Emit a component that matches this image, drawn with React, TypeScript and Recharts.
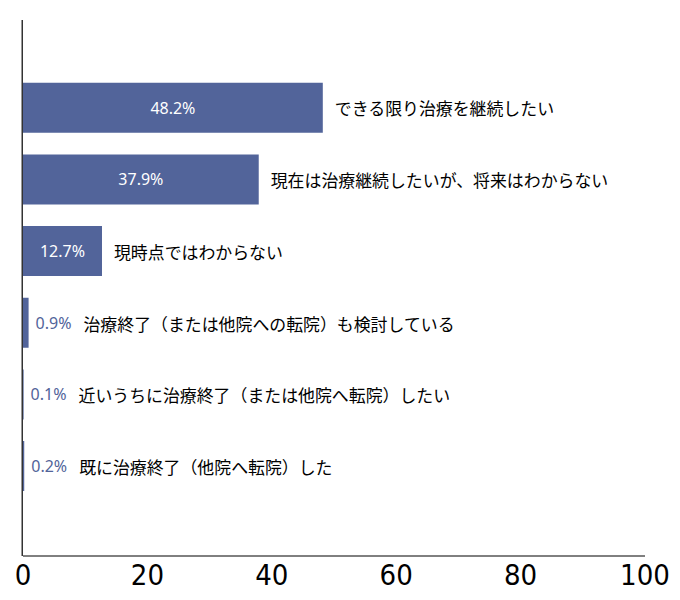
import React from "react";
import { BarChart, Bar, XAxis, YAxis, LabelList, ReferenceLine } from "recharts";

const categories = [
  "できる限り治療を継続したい",
  "現在は治療継続したいが、将来はわからない",
  "現時点ではわからない",
  "治療終了（または他院への転院）も検討している",
  "近いうちに治療終了（または他院へ転院）したい",
  "既に治療終了（他院へ転院）した",
];
const values = [48.2, 37.9, 12.7, 0.9, 0.1, 0.2];
const xTicks = [0, 20, 40, 60, 80, 100];

const data = categories.map((name, i) => ({ name, value: values[i] }));

const BAR = "#52649A";
const JP = "'Noto Sans CJK JP', 'Noto Sans', sans-serif";
const NUM = "'Noto Sans', sans-serif";

const renderLabel = (props: any) => {
  const { x, y, width, height, value, index } = props;
  const cy = y + height / 2;
  const end = x + width;
  const cat = categories[index];
  const label = `${value}%`;
  if (value >= 10) {
    return (
      <g>
        <text x={x + width / 2} y={cy} textAnchor="middle" dominantBaseline="central" fill="#fff" fontSize={16} fontFamily={NUM}>
          {label}
        </text>
        <text x={end + 12} y={cy} dominantBaseline="central" fill="#000" fontSize={16.9} fontFamily={JP}>
          {cat}
        </text>
      </g>
    );
  }
  return (
    <text x={end + 7} y={cy} dominantBaseline="central" fontSize={16} fontFamily={NUM}>
      <tspan fill={BAR}>{label}</tspan>
      <tspan dx={12} fill="#000" fontSize={16.9} fontFamily={JP}>{cat}</tspan>
    </text>
  );
};

const axisShape = (p: any) => (
  <line x1={p.x1 - 0.75} y1={p.y1} x2={p.x2 - 0.75} y2={p.y2} stroke="#333" strokeWidth={1.5} />
);

export default function App() {
  return (
    <BarChart
      width={680}
      height={600}
      data={data}
      layout="vertical"
      margin={{ top: 12, right: 43, bottom: 12, left: 15 }}
      barCategoryGap="15%"
    >
      <XAxis
        type="number"
        domain={[0, 100]}
        ticks={xTicks}
        axisLine={{ stroke: "#000", strokeWidth: 1 }}
        tickLine={false}
        height={40}
        interval={0}
        tick={{ fill: "#000", fontSize: 29, fontFamily: "'DejaVu Sans Condensed', 'DejaVu Sans', sans-serif" }}
      />
      <YAxis
        type="category"
        dataKey="name"
        hide
        padding={{ top: 52, bottom: 54 }}
      />
      <ReferenceLine x={0} ifOverflow="visible" shape={axisShape} />
      <Bar dataKey="value" fill={BAR} isAnimationActive={false}>
        <LabelList dataKey="value" content={renderLabel} />
      </Bar>
    </BarChart>
  );
}
